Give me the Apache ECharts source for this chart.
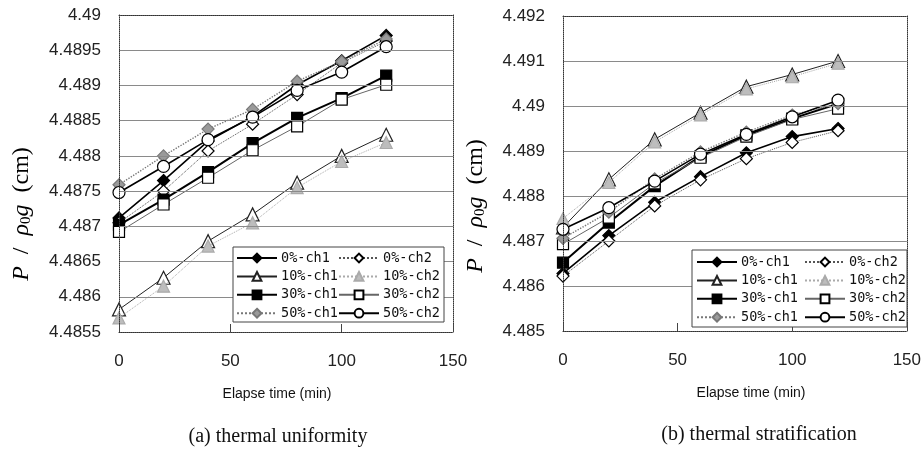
<!DOCTYPE html>
<html><head><meta charset="utf-8">
<script src="https://cdn.jsdelivr.net/npm/echarts@6/dist/echarts.min.js"></script>
<style>html,body{margin:0;padding:0;background:#fff}#c{width:924px;height:451px}</style>
</head><body><div id="c"></div>
<script>
// ---- data ----
const elapse = [0, 20, 40, 60, 80, 100, 120];
const seriesNames = ['0%-ch1','0%-ch2','10%-ch1','10%-ch2','30%-ch1','30%-ch2','50%-ch1','50%-ch2'];
// (a) thermal uniformity
const u0ch1  = [4.48712, 4.48765, 4.48821, 4.48856, 4.48901, 4.48935, 4.48971];
const u0ch2  = [4.48705, 4.48750, 4.48807, 4.48845, 4.48887, 4.48932, 4.48963];
const u10ch1 = [4.48582, 4.48627, 4.48679, 4.48717, 4.48762, 4.48800, 4.48830];
const u10ch2 = [4.48570, 4.48615, 4.48672, 4.48705, 4.48755, 4.48792, 4.48819];
const u30ch1 = [4.48702, 4.48738, 4.48777, 4.48818, 4.48854, 4.48882, 4.48914];
const u30ch2 = [4.48692, 4.48731, 4.48769, 4.48808, 4.48842, 4.48880, 4.48901];
const u50ch1 = [4.48759, 4.48800, 4.48838, 4.48866, 4.48906, 4.48934, 4.48966];
const u50ch2 = [4.48748, 4.48785, 4.48823, 4.48855, 4.48893, 4.48919, 4.48955];
// (b) thermal stratification
const s0ch1  = [4.48628, 4.48712, 4.48786, 4.48843, 4.48896, 4.48932, 4.48950];
const s0ch2  = [4.48622, 4.48700, 4.48778, 4.48836, 4.48883, 4.48919, 4.48945];
const s10ch1 = [4.48730, 4.48837, 4.48926, 4.48985, 4.49043, 4.49070, 4.49100];
const s10ch2 = [4.48750, 4.48830, 4.48920, 4.48980, 4.49038, 4.49065, 4.49095];
const s30ch1 = [4.48652, 4.48741, 4.48822, 4.48888, 4.48935, 4.48972, 4.49005];
const s30ch2 = [4.48693, 4.48752, 4.48828, 4.48885, 4.48932, 4.48970, 4.48994];
const s50ch1 = [4.48706, 4.48764, 4.48838, 4.48898, 4.48942, 4.48980, 4.49005];
const s50ch2 = [4.48726, 4.48774, 4.48833, 4.48893, 4.48937, 4.48976, 4.49013];
const xTicks = [0, 50, 100, 150];
const yTicksA = [4.4855, 4.486, 4.4865, 4.487, 4.4875, 4.488, 4.4885, 4.489, 4.4895, 4.49];
const yTicksB = [4.485, 4.486, 4.487, 4.488, 4.489, 4.49, 4.491, 4.492];

const leftData  = [u0ch1,u0ch2,u10ch1,u10ch2,u30ch1,u30ch2,u50ch1,u50ch2];
const rightData = [s0ch1,s0ch2,s10ch1,s10ch2,s30ch1,s30ch2,s50ch1,s50ch2];

// ---- styles ----
const styles = {
  '0%-ch1':  {symbol:'diamond', size:12, fill:'#000', border:'#000', line:{color:'#000', width:1.6, type:'solid'}},
  '0%-ch2':  {symbol:'diamond', size:12, fill:'#fff', border:'#000', line:{color:'#555', width:1, type:'dotted'}},
  '10%-ch1': {symbol:'triangle', size:13, fill:'#fff', border:'#222', line:{color:'#222', width:1, type:'solid'}},
  '10%-ch2': {symbol:'triangle', size:12, fill:'#bdbdbd', border:'#aaa', line:{color:'#aaa', width:1, type:'dotted'}},
  '30%-ch1': {symbol:'rect', size:11, fill:'#000', border:'#000', line:{color:'#000', width:2, type:'solid'}},
  '30%-ch2': {symbol:'rect', size:11, fill:'#fff', border:'#000', line:{color:'#666', width:1, type:'solid'}},
  '50%-ch1': {symbol:'diamond', size:12, fill:'#9a9a9a', border:'#777', line:{color:'#777', width:1.4, type:'dotted'}},
  '50%-ch2': {symbol:'circle', size:12, fill:'#fff', border:'#000', line:{color:'#000', width:1.6, type:'solid'}}
};

function mkSeries(arrs, xi, yi) {
  return seriesNames.map((n, k) => {
    const s = styles[n];
    return {
      name: n, type: 'line', xAxisIndex: xi, yAxisIndex: yi,
      data: elapse.map((x, j) => [x, arrs[k][j]]),
      symbol: s.symbol, symbolSize: s.size, showAllSymbol: true,
      lineStyle: s.line,
      itemStyle: {color: s.fill, borderColor: s.border, borderWidth: 1.2},
      emphasis: {disabled: true}, animation: false, z: 2 + k * 0.01
    };
  });
}

const fmt = v => String(+(+v).toFixed(4));
const tickFont = {fontFamily: 'Liberation Sans', fontSize: 17, color: '#222'};

function mainX(gi) {
  return {type:'value', gridIndex: gi, min: 0, max: 150, interval: 50, position:'bottom',
    axisLine:{show:true, onZero:false, lineStyle:{color:'#333', type:'dotted', width:1}},
    axisTick:{show:true, inside:true, length:8, lineStyle:{color:'#444'}},
    axisLabel:Object.assign({margin: 21, formatter: v => xTicks.includes(v) ? String(v) : ''}, tickFont),
    splitLine:{show:false}, z: 5};
}
function decoX(gi) {
  return {type:'value', gridIndex: gi, min:0, max:150, position:'top',
    axisLine:{show:true, onZero:false, lineStyle:{color:'#333', type:'dotted', width:1}},
    axisTick:{show:false}, axisLabel:{show:false}, splitLine:{show:false}, z: 5};
}
function mainY(gi, mn, mx, iv, ticks) {
  return {type:'value', gridIndex: gi, min: mn, max: mx, interval: iv, position:'left',
    axisLine:{show:true, onZero:false, lineStyle:{color:'#333', type:'dotted', width:1}},
    axisTick:{show:false},
    axisLabel:Object.assign({margin: 18, formatter: v => fmt(v)}, tickFont),
    splitLine:{show:true, lineStyle:{color:'#8a8a8a', width:1, type:'solid'}}, z: 5};
}
function decoY(gi, mn, mx) {
  return {type:'value', gridIndex: gi, min: mn, max: mx, position:'right',
    axisLine:{show:true, onZero:false, lineStyle:{color:'#333', type:'dotted', width:1}},
    axisTick:{show:false}, axisLabel:{show:false}, splitLine:{show:false}, z: 5};
}

const legendText = {fontFamily: 'DejaVu Sans Mono', fontSize: 13.5, color: '#111', padding:[0,0,0,-1]};
function mkLegend(left, top, names) {
  return {orient:'vertical', left: left, top: top, itemWidth: 40, itemHeight: 11, itemGap: 4.4,
    padding: 0, data: names, textStyle: legendText, selectedMode: false, z: 10};
}

const col1 = ['0%-ch1','10%-ch1','30%-ch1','50%-ch1'];
const col2 = ['0%-ch2','10%-ch2','30%-ch2','50%-ch2'];

const yName = {
  i: {fontFamily:'Liberation Serif', fontStyle:'italic', fontSize: 24, color:'#111'},
  n: {fontFamily:'Liberation Serif', fontSize: 24, color:'#111'},
  s: {fontFamily:'Liberation Serif', fontSize: 15, color:'#111', verticalAlign:'bottom', padding:[9,0,0,0]}
};
const yNameText = '{i|P}{n|  /  }{i|ρ}{s|0}{i|g}{n|  (cm)}';

const chart = echarts.init(document.getElementById('c'), null, {renderer:'canvas'});
chart.setOption({
  backgroundColor: '#fff',
  animation: false,
  grid: [
    {left: 119, right: 924 - 453, top: 15, bottom: 451 - 332},
    {left: 563, right: 924 - 908, top: 16, bottom: 451 - 331}
  ],
  xAxis: [mainX(0), decoX(0), mainX(1), decoX(1)],
  yAxis: [mainY(0, 4.4855, 4.49, 0.0005), decoY(0, 4.4855, 4.49), mainY(1, 4.485, 4.492, 0.001), decoY(1, 4.485, 4.492)],
  legend: [mkLegend(236, 251, col1), mkLegend(338, 251, col2), mkLegend(696, 255, col1), mkLegend(804, 255, col2)],
  series: mkSeries(leftData, 0, 0).concat(mkSeries(rightData, 2, 2)),
  graphic: [
    {type:'rect', shape:{x:233, y:247, width:211, height:75}, style:{fill:'#fff', stroke:'#444', lineWidth:1}, z: 8},
    {type:'rect', shape:{x:692, y:250, width:215, height:77}, style:{fill:'#fff', stroke:'#444', lineWidth:1}, z: 8},
    {type:'text', x: 277, y: 394, style:{text:'Elapse time (min)', font:'14px "Liberation Sans"', fill:'#111', align:'center', verticalAlign:'middle'}},
    {type:'text', x: 751, y: 393, style:{text:'Elapse time (min)', font:'14px "Liberation Sans"', fill:'#111', align:'center', verticalAlign:'middle'}},
    {type:'text', x: 278, y: 437, style:{text:'(a) thermal uniformity', font:'20px "Liberation Serif"', fill:'#111', align:'center', verticalAlign:'middle'}},
    {type:'text', x: 759, y: 435, style:{text:'(b) thermal stratification', font:'20px "Liberation Serif"', fill:'#111', align:'center', verticalAlign:'middle'}},
    {type:'text', x: 22, y: 214, rotation: Math.PI/2, style:{text: yNameText, rich: yName, align:'center', verticalAlign:'middle'}},
    {type:'text', x: 476, y: 206, rotation: Math.PI/2, style:{text: yNameText, rich: yName, align:'center', verticalAlign:'middle'}}
  ]
});
</script>
</body></html>
